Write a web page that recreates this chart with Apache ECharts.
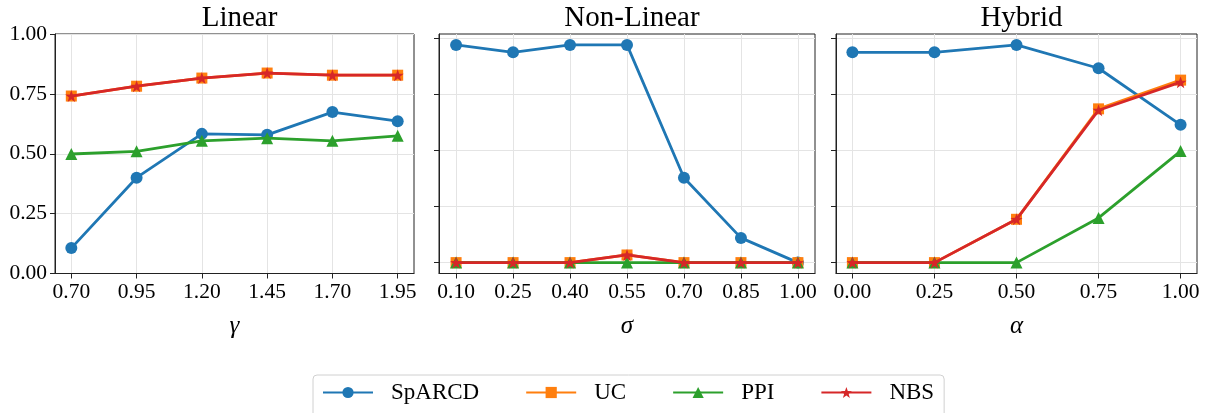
<!DOCTYPE html>
<html>
<head>
<meta charset="utf-8">
<script src="https://cdn.jsdelivr.net/npm/echarts@6/dist/echarts.min.js"></script>
<style>
	html, body { margin: 0; padding: 0; background: #fff; }
	#main { width: 1207px; height: 413px; }
</style>
</head>
<body>
<div id="main"></div>
<script>
// data
var seriesNames = ['SpARCD', 'UC', 'PPI', 'NBS'];

// Linear (gamma)
var gammaX = [0.70, 0.95, 1.20, 1.45, 1.70, 1.95];
var linSpARCD = [0.106, 0.400, 0.583, 0.579, 0.674, 0.636];
var linUC = [0.741, 0.782, 0.816, 0.837, 0.828, 0.828];
var linPPI = [0.499, 0.510, 0.554, 0.565, 0.554, 0.575];
var linNBS = [0.741, 0.782, 0.816, 0.837, 0.828, 0.828];

// Non-Linear (sigma)
var sigmaX = [0.10, 0.25, 0.40, 0.55, 0.70, 0.85, 1.00];
var nlSpARCD = [0.969, 0.936, 0.969, 0.969, 0.378, 0.110, 0.0];
var nlUC = [0, 0, 0, 0.034, 0, 0, 0];
var nlPPI = [0, 0, 0, 0, 0, 0, 0];
var nlNBS = [0, 0, 0, 0.034, 0, 0, 0];

// Hybrid (alpha)
var alphaX = [0.00, 0.25, 0.50, 0.75, 1.00];
var hySpARCD = [0.937, 0.937, 0.970, 0.866, 0.614];
var hyUC = [0, 0, 0.193, 0.685, 0.813];
var hyPPI = [0, 0, 0, 0.199, 0.497];
var hyNBS = [0, 0, 0.193, 0.679, 0.804];

var yTicks = [0, 0.25, 0.5, 0.75, 1.0];

var colors = ['#1f77b4', '#ff7f0e', '#2ca02c', '#d62728'];
var FONT = '"Liberation Serif", "DejaVu Serif", serif';

function starPath() {
	var pts = [];
	for (var i = 0; i < 10; i++) {
		var r = i % 2 ? 0.4 : 1;
		var a = -Math.PI / 2 + i * Math.PI / 5;
		pts.push((r * Math.cos(a)).toFixed(3) + ',' + (r * Math.sin(a)).toFixed(3));
	}
	return 'path://M' + pts.join('L') + 'Z';
}
var symbols = ['circle', 'rect', 'triangle', starPath()];
var symbolSizes = [12, 11, 12, 12];

// matplotlib-like 5% margin
function pad(arr) {
	var lo = Math.min.apply(null, arr), hi = Math.max.apply(null, arr);
	var m = (hi - lo) * 0.05;
	return [lo - m, hi + m];
}

var panels = [
	{ title: 'Linear', name: 'γ', x: gammaX, ys: [linSpARCD, linUC, linPPI, linNBS], left: 55, width: 359, fixedY: true },
	{ title: 'Non-Linear', name: 'σ', x: sigmaX, ys: [nlSpARCD, nlUC, nlPPI, nlNBS], left: 439, width: 376 },
	{ title: 'Hybrid', name: 'α', x: alphaX, ys: [hySpARCD, hyUC, hyPPI, hyNBS], left: 836, width: 361 }
];

var grids = [], xAxes = [], yAxes = [], titles = [], series = [];

panels.forEach(function(p, k) {
	grids.push({
		left: p.left, width: p.width, top: 34, height: 239.5,
		show: true, borderColor: '#222', borderWidth: 1
	});
	titles.push({
		text: p.title,
		left: p.left + p.width / 2,
		top: -1,
		textAlign: 'center',
		textStyle: { fontFamily: FONT, fontSize: 29, fontWeight: 'normal', color: '#000' }
	});
	var xr = pad(p.x);
	xAxes.push({
		type: 'value', gridIndex: k, min: xr[0], max: xr[1],
		name: p.name, nameLocation: 'middle', nameGap: 40,
		nameTextStyle: { fontFamily: FONT, fontSize: 25, fontStyle: 'italic', color: '#000' },
		axisLine: { show: true, onZero: false, lineStyle: { color: '#222', width: 1 } },
		axisTick: { show: true, inside: false, length: 5, customValues: p.x, lineStyle: { color: '#222' } },
		axisLabel: {
			customValues: p.x, margin: 8, color: '#000', fontFamily: FONT, fontSize: 21.5,
			formatter: function(v) { return v.toFixed(2); }
		},
		splitLine: { show: true, lineStyle: { color: '#e4e4e4', width: 1 } }
	});
	var all = [].concat.apply([], p.ys);
	var yr = p.fixedY ? [0, 1] : pad(all);
	yAxes.push({
		type: 'value', gridIndex: k, min: yr[0], max: yr[1],
		axisLine: { show: true, onZero: false, lineStyle: { color: '#222', width: 1 } },
		axisTick: { show: true, length: 5, customValues: yTicks, lineStyle: { color: '#222' } },
		axisLabel: {
			show: !!p.fixedY, customValues: yTicks, margin: 8, color: '#000', fontFamily: FONT, fontSize: 21.5,
			formatter: function(v) { return v.toFixed(2); }
		},
		splitLine: { show: true, lineStyle: { color: '#e4e4e4', width: 1 } }
	});
	p.ys.forEach(function(vals, s) {
		series.push({
			name: seriesNames[s],
			type: 'line',
			xAxisIndex: k, yAxisIndex: k,
			data: p.x.map(function(xv, i) { return [xv, vals[i]]; }),
			symbol: symbols[s],
			symbolSize: symbolSizes[s],
			showAllSymbol: true,
			color: colors[s],
			lineStyle: { width: 2.8, color: colors[s] },
			itemStyle: { color: colors[s] },
			z: 2 + s,
			animation: false
		});
	});
});

var chart = echarts.init(document.getElementById('main'), null, { renderer: 'canvas' });
chart.setOption({
	animation: false,
	title: titles,
	grid: grids,
	xAxis: xAxes,
	yAxis: yAxes,
	legend: {
		data: seriesNames,
		left: 313, top: 375,
		padding: [6, 10, 14, 9],
		itemWidth: 50, itemHeight: 14, itemGap: 46,
		borderColor: '#d0d0d0', borderWidth: 1, borderRadius: 4,
		textStyle: { fontFamily: FONT, fontSize: 23, color: '#000', padding: [0, 0, 0, 13] }
	},
	series: series
});
</script>
</body>
</html>
